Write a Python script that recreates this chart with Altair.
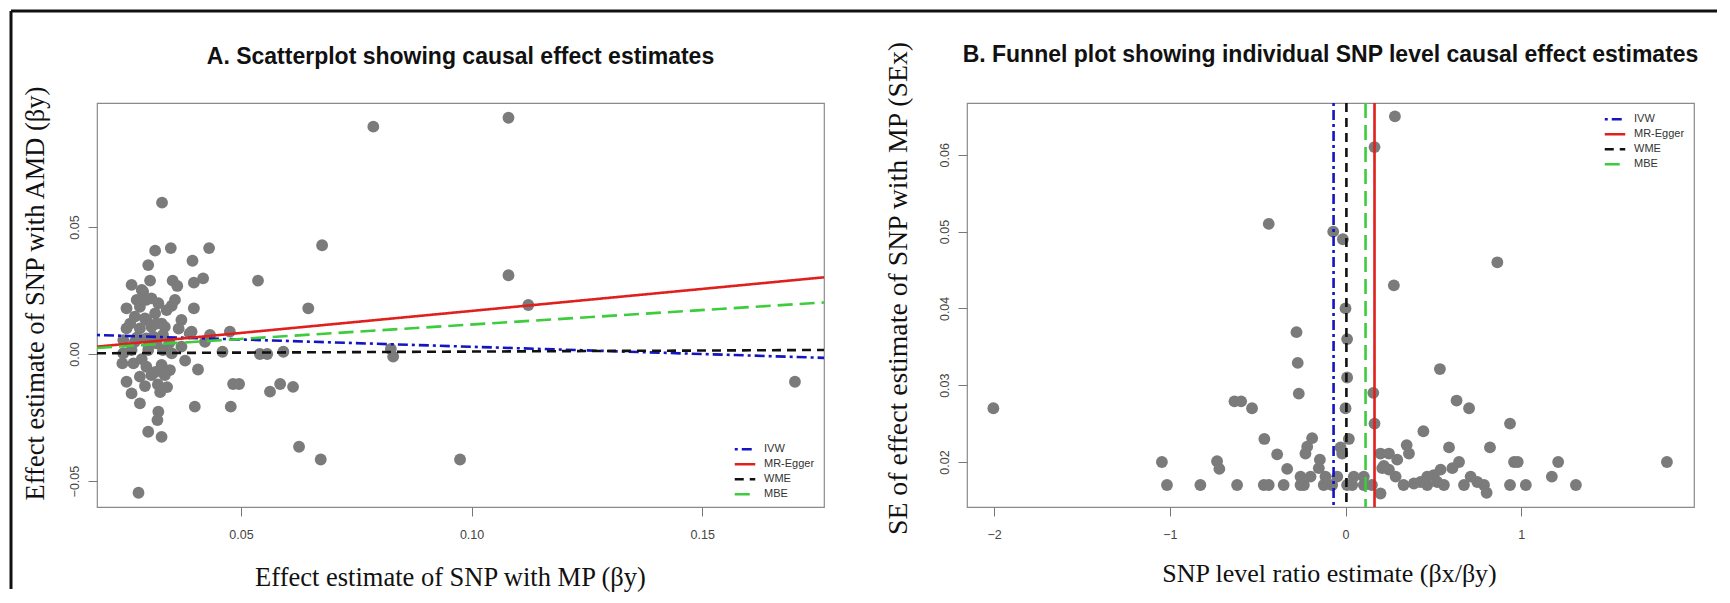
import altair as alt
import pandas as pd

# ---------------- data ----------------
methods = ["IVW", "MR-Egger", "WME", "MBE"]
method_colors = ["#1414c0", "#e0201c", "#111111", "#3ccc3c"]
method_dashes = [[3, 4, 10, 4], [1, 0], [9, 6], [15, 7]]

# Panel A: SNP effects on MP (x) and AMD (y)
lx = [0.0787, 0.1080, 0.0329, 0.0314, 0.0348, 0.0431, 0.0395, 0.0299, 0.0676, 0.0537,
      0.0418, 0.0398, 0.0352, 0.0362, 0.0263, 0.0303, 0.0646, 0.0398, 0.0357, 0.0252,
      0.0371, 0.0393, 0.0433, 0.0476, 0.0252, 0.0422, 0.0460, 0.0541, 0.0557, 0.0592,
      0.0825, 0.0830, 0.0379, 0.0407, 0.0483, 0.0496, 0.0563, 0.0585, 0.0613, 0.0400,
      0.0478, 0.0252, 0.0263, 0.0281, 0.0292, 0.0321, 0.0319, 0.0299, 0.0328, 0.0626,
      0.0673, 0.0975, 0.0320, 0.0340, 0.0325, 0.0243, 0.0278, 0.1701, 0.1123, 0.1080,
      0.0288, 0.0274, 0.0295, 0.0321, 0.0339, 0.0270, 0.0292, 0.0314, 0.0328, 0.0281,
      0.0306, 0.0331, 0.0245, 0.0270, 0.0295, 0.0317, 0.0389, 0.0245, 0.0263, 0.0299,
      0.0331, 0.0350, 0.0371, 0.0267, 0.0295, 0.0328, 0.0346, 0.0281, 0.0306, 0.0335,
      0.0285, 0.0306, 0.0281, 0.0295, 0.0317, 0.0335, 0.0310, 0.0275, 0.0300, 0.0345,
      0.0285, 0.0315, 0.0260, 0.0350, 0.0365]
ly = [0.0895, 0.0930, 0.0596, 0.0407, 0.0417, 0.0417, 0.0367, 0.0350, 0.0428, 0.0289,
      0.0298, 0.0281, 0.0289, 0.0268, 0.0272, 0.0289, 0.0180, 0.0180, 0.0213, 0.0180,
      0.0134, 0.0088, 0.0075, 0.0088, 0.0101, 0.0048, 0.0009, 0.0000, 0.0000, 0.0009,
      0.0020, -0.0010, -0.0026, -0.0061, -0.0118, -0.0118, -0.0148, -0.0118, -0.0129, -0.0207,
      -0.0207, -0.0109, -0.0155, -0.0194, -0.0126, -0.0227, -0.0260, -0.0306, -0.0326, -0.0365,
      -0.0415, -0.0415, -0.0120, -0.0130, -0.0150, -0.0037, -0.0546, -0.0109, 0.0193, 0.0310,
      0.0245, 0.0213, 0.0213, 0.0200, 0.0173, 0.0147, 0.0140, 0.0160, 0.0120, 0.0101,
      0.0107, 0.0075, 0.0055, 0.0048, 0.0061, 0.0042, 0.0081, 0.0003, 0.0016, 0.0016,
      0.0016, 0.0003, 0.0029, -0.0037, -0.0050, -0.0043, -0.0063, -0.0089, -0.0083, -0.0083,
      0.0252, 0.0219, 0.0186, 0.0134, 0.0120, 0.0107, 0.0068, 0.0065, 0.0030, 0.0045,
      -0.0020, -0.0070, 0.0120, 0.0190, 0.0100]

# Panel A: fitted lines (value at left and right end of the x range)
line_x = [0.0188, 0.1764]
line_y_start = [0.0075, 0.0029, 0.0003, 0.0024]
line_y_end = [-0.0015, 0.0302, 0.0016, 0.0203]

# Panel B: SNP level ratio estimate (x) and SE (y)
rx = [-2.004, -0.437, -0.632, -0.594, -0.532, -0.462, -0.389, -0.332, -1.045, -0.731,
      -0.718, -0.279, -0.272, -0.266, -1.016, -0.826, -0.617, -0.465, -0.437, -0.352,
      -0.256, 0.281, 0.165, -0.070, -0.015, 0.864, 0.275, 0.000, 0.009, 0.537,
      0.009, 0.158, 0.632, 0.703, 0.000, 0.165, 0.936, 0.443, 0.019, -0.028,
      0.589, 0.822, 0.348, 0.361, 0.199, 0.247, 0.294, 0.959, -0.190, -0.218,
      -0.146, 1.829, 1.210, 0.980, 1.174, 1.311, 0.936, 1.026, 0.803, 0.712,
      0.750, 0.788, 0.646, 0.608, 0.541, 0.503, 0.465, 0.427, 0.389, 0.218,
      0.209, 0.247, 0.285, 0.199, 0.104, 0.104, 0.047, 0.038, 0.009, -0.019,
      -0.076, -0.047, -0.114, -0.124, -0.228, -0.152, -0.199, -0.237, -0.256, 0.465,
      0.522, 0.560, 0.674, 0.330, 0.150]
ry = [0.0270, 0.0510, 0.0279, 0.0279, 0.0270, 0.0230, 0.0210, 0.0191, 0.0200, 0.0201,
      0.0191, 0.0369, 0.0329, 0.0289, 0.0170, 0.0170, 0.0170, 0.0170, 0.0170, 0.0170,
      0.0170, 0.0650, 0.0610, 0.0500, 0.0490, 0.0460, 0.0430, 0.0400, 0.0360, 0.0321,
      0.0310, 0.0290, 0.0280, 0.0270, 0.0270, 0.0250, 0.0250, 0.0240, 0.0230, 0.0219,
      0.0219, 0.0219, 0.0222, 0.0211, 0.0211, 0.0211, 0.0203, 0.0200, 0.0231, 0.0220,
      0.0203, 0.0200, 0.0200, 0.0200, 0.0181, 0.0170, 0.0170, 0.0170, 0.0160, 0.0181,
      0.0174, 0.0170, 0.0200, 0.0192, 0.0190, 0.0183, 0.0181, 0.0174, 0.0172, 0.0195,
      0.0192, 0.0190, 0.0181, 0.0159, 0.0181, 0.0170, 0.0181, 0.0170, 0.0170, 0.0211,
      0.0170, 0.0181, 0.0181, 0.0170, 0.0211, 0.0192, 0.0181, 0.0170, 0.0181, 0.0170,
      0.0174, 0.0170, 0.0170, 0.0170, 0.0170]

# Panel B: overall causal estimates (vertical lines)
ratio_estimates = [-0.068, 0.165, 0.005, 0.114]

# ---------------- tables ----------------
ptsA = pd.DataFrame({"x": lx, "y": ly})
linesA = pd.DataFrame({
    "method": [m for m in methods for _ in line_x],
    "x": line_x * len(methods),
    "y": [v for pair in zip(line_y_start, line_y_end) for v in pair],
})
ptsB = pd.DataFrame({"x": rx, "y": ry})
linesB = pd.DataFrame({"method": methods, "x": ratio_estimates})
frame_df = pd.DataFrame({"k": [0]})

POINT_COLOR = "#7b7b7b"
POINT_SIZE = 140
LW = 2.6

method_color = alt.Color(
    "method:N",
    scale=alt.Scale(domain=methods, range=method_colors),
)
method_dash = alt.StrokeDash(
    "method:N",
    scale=alt.Scale(domain=methods, range=method_dashes),
)


def make_legend(lx_pos, ly_pos):
    return alt.Legend(
        orient="none", legendX=lx_pos, legendY=ly_pos, title=None,
        symbolType="stroke", symbolSize=420, symbolStrokeWidth=2.6,
        labelFont="Liberation Sans", labelFontSize=11, labelColor="#333",
        labelOffset=7, rowPadding=2, clipHeight=12.5, padding=0,
    )


# ---------------- Panel A ----------------
xA = alt.X("x:Q",
           scale=alt.Scale(domain=[0.0188, 0.1764], nice=False, zero=False),
           axis=alt.Axis(values=[0.05, 0.10, 0.15], format=".2f",
                         title="Effect estimate of SNP with MP (βy)",
                         titleX=353, titleY=70, titleBaseline="middle",
                         titleAlign="center", titleAngle=0, titleFontSize=26.5))
yA = alt.Y("y:Q",
           scale=alt.Scale(domain=[-0.0602, 0.0988], nice=False, zero=False),
           axis=alt.Axis(values=[-0.05, 0.0, 0.05], format=".2f",
                         title="Effect estimate of SNP with AMD (βy)",
                         titleX=-62, titleY=190, titleBaseline="middle",
                         titleAlign="center", titleAngle=270, titleFontSize=26.5))

scatterA = alt.Chart(ptsA).mark_circle(size=POINT_SIZE, color=POINT_COLOR, opacity=1).encode(x=xA, y=yA)
fitA = alt.Chart(linesA).mark_line(strokeWidth=LW, clip=True).encode(
    x="x:Q", y="y:Q",
    color=method_color.legend(make_legend(636, 340)),
    strokeDash=method_dash.legend(make_legend(636, 340)),
    detail="method:N",
)
frame_top = alt.Chart(frame_df).mark_rule(color="#111", strokeWidth=3).encode(
    x=alt.value(-86), x2=alt.value(1620), y=alt.value(-92))
frame_left = alt.Chart(frame_df).mark_rule(color="#111", strokeWidth=3).encode(
    x=alt.value(-86), y=alt.value(-92), y2=alt.value(486))

panelA = alt.layer(scatterA, fitA, frame_top, frame_left).properties(
    width=727, height=404,
    title=alt.TitleParams("A. Scatterplot showing causal effect estimates",
                          font="Liberation Sans", fontSize=23, fontWeight="bold",
                          color="#111", anchor="middle", frame="group", offset=-59),
)

# ---------------- Panel B ----------------
xB = alt.X("x:Q",
           scale=alt.Scale(domain=[-2.154, 1.983], nice=False, zero=False),
           axis=alt.Axis(values=[-2, -1, 0, 1], format="d",
                         title="SNP level ratio estimate (βx/βy)",
                         titleX=362, titleY=66, titleBaseline="middle",
                         titleAlign="center", titleAngle=0, titleFontSize=26))
yB = alt.Y("y:Q",
           scale=alt.Scale(domain=[0.01414, 0.06674], nice=False, zero=False),
           axis=alt.Axis(values=[0.02, 0.03, 0.04, 0.05, 0.06], format=".2f",
                         title="SE of effect estimate of SNP with MP (SEx)",
                         titleX=-69, titleY=185, titleBaseline="middle",
                         titleAlign="center", titleAngle=270, titleFontSize=27.8))

scatterB = alt.Chart(ptsB).mark_circle(size=POINT_SIZE, color=POINT_COLOR, opacity=1).encode(x=xB, y=yB)
fitB = alt.Chart(linesB).mark_rule(strokeWidth=LW).encode(
    x="x:Q",
    color=method_color.legend(make_legend(636, 10)),
    strokeDash=method_dash.legend(make_legend(636, 10)),
)
panelB = alt.layer(scatterB, fitB).properties(
    width=727, height=404,
    title=alt.TitleParams("B. Funnel plot showing individual SNP level causal effect estimates",
                          font="Liberation Sans", fontSize=23, fontWeight="bold",
                          color="#111", anchor="middle", frame="group", offset=-27),
)

chart = alt.hconcat(panelA, panelB, spacing=143, bounds="flush").resolve_scale(
    x="independent", y="independent", color="independent", strokeDash="independent"
).resolve_legend(color="independent", strokeDash="independent").properties(
    padding={"left": 0, "top": 0, "right": 0, "bottom": 0}, background="white"
).configure_axis(
    grid=False, domain=False,
    labelFont="Liberation Sans", labelFontSize=12.5, labelColor="#444",
    tickColor="#777", tickSize=9, tickWidth=1,
    titleFont="Liberation Serif", titleFontWeight="normal", titleColor="#111",
).configure_axisX(labelPadding=12).configure_axisY(
    labelAngle=270, labelAlign="center", labelBaseline="bottom", labelPadding=7,
).configure_view(stroke="#8a8a8a", strokeWidth=1.2)

chart.save("out.html", embed_options={"renderer": "svg", "actions": False})
